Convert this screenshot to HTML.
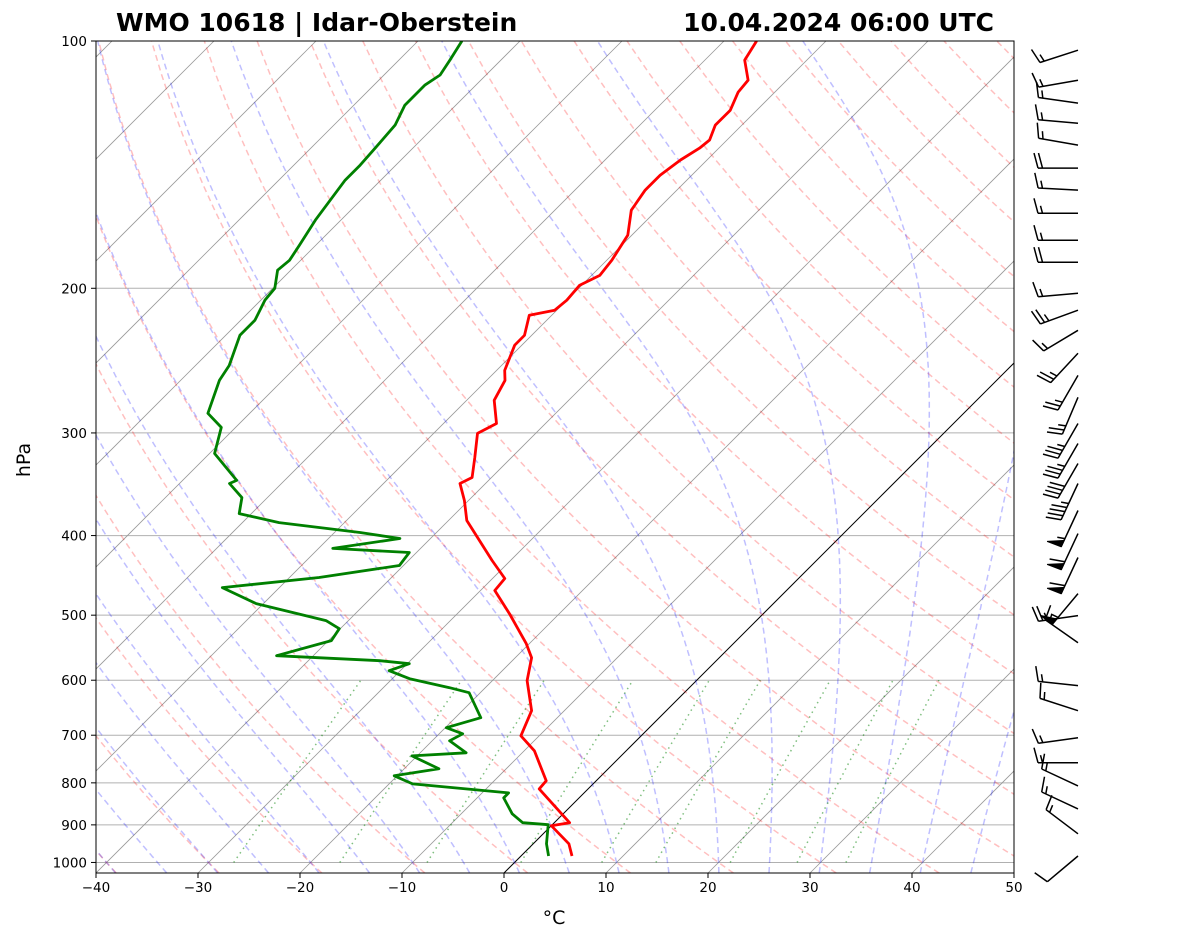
<!DOCTYPE html>
<html><head><meta charset="utf-8"><style>
html,body{margin:0;padding:0;background:#fff;}
svg text{font-family:"DejaVu Sans","Liberation Sans",sans-serif;}
</style></head><body>
<svg id="chart" width="1181" height="941" viewBox="0 0 1181 941" xmlns="http://www.w3.org/2000/svg">
<defs><clipPath id="plotclip"><rect x="96" y="41" width="918" height="832"/></clipPath></defs>
<rect x="0" y="0" width="1181" height="941" fill="#fff"/>
<text x="116" y="31" font-size="25" font-weight="bold">WMO 10618 | Idar-Oberstein</text>
<text x="994" y="31" font-size="25" font-weight="bold" text-anchor="end">10.04.2024 06:00 UTC</text>
<g id="bg" clip-path="url(#plotclip)"></g>
<g id="prof" clip-path="url(#plotclip)"></g>
<rect x="96" y="41" width="918" height="832" fill="none" stroke="#000" stroke-width="1"/>
<g id="axes"></g>
<g id="barbs"></g>
<text x="554" y="924" font-size="19" text-anchor="middle">°C</text>
<text x="0" y="0" font-size="19" text-anchor="middle" transform="translate(30,460) rotate(-90)">hPa</text>
</svg>
<script>
// ---- data ----
const tempP = [100,105.5,111.6,115.4,121.4,126.6,132.0,135.0,139.6,145.7,151.9,160.7,172.3,184.9,192.9,198.3,206.8,212.7,215.7,228.2,234.6,251.8,258.9,273.8,292.2,300.4,321.4,339.9,345.7,362.6,383.5,429.0,451.1,466.6,497.8,541.6,563.3,600.6,653.6,701.1,731.3,795.5,813.6,894.6,902.2,949.0,982];
const tempT = [-56.8,-56.1,-53.8,-53.6,-52.6,-52.6,-51.7,-51.9,-52.6,-53.1,-53.1,-52.5,-50.4,-49.5,-49.2,-50.2,-50.0,-50.2,-52.2,-50.7,-50.7,-49.2,-48.2,-47.3,-44.8,-45.7,-43.6,-41.9,-42.5,-40.4,-38.2,-31.8,-28.8,-28.6,-24.9,-20.3,-18.4,-16.6,-13.2,-11.8,-9.0,-4.9,-4.8,1.5,0.0,3.5,5.0];
const dewP = [100,105.5,110.0,113.1,119.7,126.6,135.0,141.6,147.7,156.2,165.2,177.3,184.9,190.1,200,206.8,218.8,228.2,248.3,258.9,283.9,295.4,317.8,342.7,345.7,359.6,376.1,385.7,396.6,403.3,414.7,419.5,435.0,449.9,462.8,484.1,507.6,519.3,537.0,560.1,568.1,572.9,584.2,597.5,612.7,621.4,666.4,685.5,697.2,711.0,735.4,741.7,769.1,784.3,802.3,822.8,834.4,872.6,894.6,899.7,949.0,982];
const dewT = [-85.7,-85.0,-84.5,-85.0,-85.0,-84.0,-83.7,-83.5,-83.5,-83.0,-82.5,-81.6,-81.1,-81.3,-79.8,-79.6,-78.6,-78.6,-76.7,-76.2,-74.1,-71.4,-69.5,-64.7,-65.1,-62.5,-61.2,-56.4,-47.5,-43.0,-48.6,-40.7,-40.4,-47.1,-55.6,-50.7,-42.2,-40.1,-39.7,-43.6,-33.0,-29.8,-31.1,-28.3,-23.5,-21.1,-17.5,-19.9,-17.7,-18.3,-15.5,-20.5,-16.6,-20.3,-17.7,-7.4,-7.4,-5.0,-3.1,-0.4,1.3,2.7];
const windP = [102.6,111.6,119.0,125.9,133.9,142.8,151.9,162.1,174.8,185.9,202.8,212.7,225.0,240.0,255.3,271.5,292.2,309.0,326.8,345.7,372.9,397.8,425.4,470.7,500.6,540.1,609.1,653.6,704.9,756.1,806.8,860.5,922.7,982];
const windDir = [252,260,278,275,280,270,273,270,270,270,265,250,239,223,210,203,210,210,210,205,205,205,205,220,262,305,276,288,262,270,295,295,307,230];
const windSpd = [15,15,15,15,15,20,15,15,15,20,15,25,15,25,25,25,35,35,40,45,55,60,60,55,25,15,15,15,15,15,15,15,15,10];
const pTicks = [100,200,300,400,500,600,700,800,900,1000];
const tTicks = [-40,-30,-20,-10,0,10,20,30,40,50];

// ---- axes ----
const NS='http://www.w3.org/2000/svg';
const X0=96, X1=1014, Y0=41, Y1=873, TMIN=-40, TMAX=50, PTOP=100, PBOT=1030;
const pxPerDec=(Y1-Y0)/Math.log10(PBOT/PTOP);
function yOf(p){return Y0+Math.log10(p/PTOP)*pxPerDec;}
function xOf(T,p){return X0+(T-TMIN)*(X1-X0)/(TMAX-TMIN)+(Y1-yOf(p));}
function mk(tag,attrs,parent){const e=document.createElementNS(NS,tag);for(const k in attrs)e.setAttribute(k,attrs[k]);parent.appendChild(e);return e;}
function pathFrom(Ts,Ps){let d='';for(let i=0;i<Ts.length;i++){d+=(i?'L':'M')+xOf(Ts[i],Ps[i]).toFixed(1)+','+yOf(Ps[i]).toFixed(1);}return d;}
const bg=document.getElementById('bg'), prof=document.getElementById('prof'), axes=document.getElementById('axes'), barbs=document.getElementById('barbs');

for(const p of pTicks){
  const l=mk('line',{x1:X0,x2:X1,y1:yOf(p),y2:yOf(p),stroke:'#b0b0b0','stroke-width':1},bg);
  
  
}
for(let T=-160;T<=50;T+=10){
  const l=mk('line',{x1:xOf(T,PBOT),y1:yOf(PBOT),x2:xOf(T,PTOP),y2:yOf(PTOP),stroke:T===0?'#000':'#999','stroke-width':T===0?1:0.8},bg);
  
  
}
const plevels=[];for(let p=PBOT;p>=PTOP;p-=10)plevels.push(p);
for(let th=-50;th<=200;th+=10){
  const Ts=plevels.map(p=>(th+273.15)*Math.pow(p/1000,0.2857)-273.15);
  const e=mk('path',{d:pathFrom(Ts,plevels),fill:'none',stroke:'rgba(255,0,0,0.25)','stroke-width':1.5,'stroke-dasharray':'6,4'},bg);
  
  
}
function es(Tk){const t=Tk-273.15;return 6.112*Math.exp(17.67*t/(t+243.5));}
function dTdp(Tk,p){const Rd=287.04,Cp=1005.7,Lv=2.501e6,eps=0.622;const e=es(Tk);const rs=eps*e/(p-e);
  return (Rd*Tk+Lv*rs)/(p*(Cp+Lv*Lv*rs*eps/(Rd*Tk*Tk)));}
function integ(T0,p0,p1,dp){let T=T0+273.15,p=p0;const out=[[T-273.15,p]];const n=Math.round(Math.abs(p1-p0)/dp);const h=(p1-p0)/n;
  for(let i=0;i<n;i++){const k1=dTdp(T,p),k2=dTdp(T+h/2*k1,p+h/2),k3=dTdp(T+h/2*k2,p+h/2),k4=dTdp(T+h*k3,p+h);T+=h/6*(k1+2*k2+2*k3+k4);p+=h;out.push([T-273.15,p]);}return out;}
for(let t0=-50;t0<=45;t0+=5){
  const up=integ(t0,1000,PTOP,2), dn=integ(t0,1000,PBOT,2);
  const pts=dn.reverse().concat(up.slice(1));
  const e=mk('path',{d:pathFrom(pts.map(a=>a[0]),pts.map(a=>a[1])),fill:'none',stroke:'rgba(0,0,255,0.25)','stroke-width':1.5,'stroke-dasharray':'6,4'},bg);
  
  
}
for(const w of [0.0004,0.001,0.002,0.004,0.007,0.01,0.016,0.024,0.032]){
  const ps=[];for(let p=1000;p>=600;p-=10)ps.push(p);
  const Ts=ps.map(p=>{const e=p*w/(0.622+w);const l=Math.log(e/6.112);return 243.5*l/(17.67-l);});
  const e=mk('path',{d:pathFrom(Ts,ps),fill:'none',stroke:'rgba(0,128,0,0.5)','stroke-width':1.5,'stroke-dasharray':'1.5,4'},bg);
  
  
}
const tl=mk('path',{d:pathFrom(tempT,tempP),fill:'none',stroke:'#ff0000','stroke-width':2.8,'stroke-linejoin':'round'},prof);


const dl=mk('path',{d:pathFrom(dewT,dewP),fill:'none',stroke:'#008000','stroke-width':2.8,'stroke-linejoin':'round'},prof);



for(const p of pTicks){
  const y=yOf(p);
  const t=mk('line',{x1:X0-5,x2:X0,y1:y,y2:y,stroke:'#000'},axes);
  
  
  const tx=mk('text',{x:X0-9,y:y+5,'font-size':13.5,'text-anchor':'end'},axes);tx.textContent=p;
  
  
}
for(const T of tTicks){
  const x=X0+(T-TMIN)*(X1-X0)/(TMAX-TMIN);
  const t=mk('line',{x1:x,x2:x,y1:Y1,y2:Y1+5,stroke:'#000'},axes);
  
  
  const tx=mk('text',{x:x,y:Y1+19,'font-size':13.5,'text-anchor':'middle'},axes);tx.textContent=String(T).replace('-','\u2212');
  
  
}
// wind barbs
const BX=1078, L=40;
for(let i=0;i<windP.length;i++){
  const y=yOf(windP[i]), d=windDir[i]*Math.PI/180;
  const ux=Math.sin(d), uy=-Math.cos(d);
  const px=-uy, py=ux;
  const g=mk('g',{},barbs);
  
  
  const tx=BX+ux*L, ty=y+uy*L;
  let dd='M'+BX+','+y.toFixed(1)+'L'+tx.toFixed(1)+','+ty.toFixed(1);
  let s=Math.round(windSpd[i]/5)*5, pos=0, flags='';
  const bl=15, sp=4.5;
  while(s>=50){const ax=tx-ux*pos,ay=ty-uy*pos,bx=tx-ux*(pos+7),by=ty-uy*(pos+7);
    flags+='M'+ax.toFixed(1)+','+ay.toFixed(1)+'L'+(ax+px*bl+ux*1).toFixed(1)+','+(ay+py*bl+uy*1).toFixed(1)+'L'+bx.toFixed(1)+','+by.toFixed(1)+'Z';pos+=9;s-=50;}
  while(s>=10){const ax=tx-ux*pos,ay=ty-uy*pos;dd+='M'+ax.toFixed(1)+','+ay.toFixed(1)+'L'+(ax+px*bl+ux*4).toFixed(1)+','+(ay+py*bl+uy*4).toFixed(1);pos+=sp;s-=10;}
  if(s>=5){if(pos===0)pos=sp;const ax=tx-ux*pos,ay=ty-uy*pos;dd+='M'+ax.toFixed(1)+','+ay.toFixed(1)+'L'+(ax+px*bl/2+ux*2).toFixed(1)+','+(ay+py*bl/2+uy*2).toFixed(1);}
  mk('path',{d:dd,fill:'none',stroke:'#000','stroke-width':1.5},g);
  if(flags)mk('path',{d:flags,fill:'#000',stroke:'#000','stroke-width':1},g);
}
</script>
</body></html>
